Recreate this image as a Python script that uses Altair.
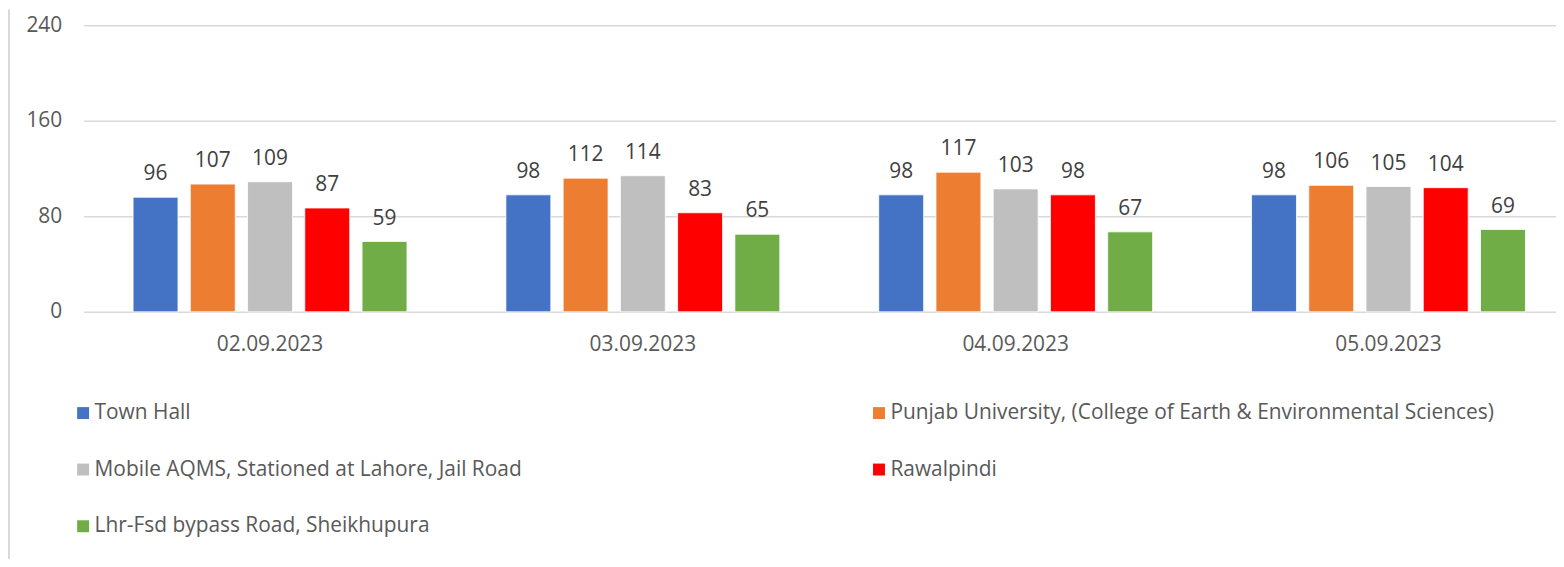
import altair as alt
import pandas as pd

dates = ["02.09.2023", "03.09.2023", "04.09.2023", "05.09.2023"]
stations = [
    "Town Hall",
    "Punjab University, (College of Earth & Environmental Sciences)",
    "Mobile AQMS, Stationed at Lahore, Jail Road",
    "Rawalpindi",
    "Lhr-Fsd bypass Road, Sheikhupura",
]
town_hall = [96, 98, 98, 98]
punjab_university = [107, 112, 117, 106]
mobile_aqms = [109, 114, 103, 105]
rawalpindi = [87, 83, 98, 104]
sheikhupura = [59, 65, 67, 69]
colors = ["#4472C4", "#ED7D31", "#BFBFBF", "#FF0000", "#70AD47"]
y_ticks = [0, 80, 160, 240]

series = [town_hall, punjab_university, mobile_aqms, rawalpindi, sheikhupura]
rows = []
for st, vals in zip(stations, series):
    for d, v in zip(dates, vals):
        rows.append({"date": d, "station": st, "value": v})
df = pd.DataFrame(rows)

# legend fills column by column (3 rows): reorder so rows read as in the original
legend_idx = [0, 2, 4, 1, 3]
legend_domain = [stations[i] for i in legend_idx]
legend_colors = [colors[i] for i in legend_idx]

FONT = "Open Sans"
FS = 21

base = alt.Chart(df).encode(
    x=alt.X(
        "date:N",
        sort=dates,
        scale=alt.Scale(paddingInner=0, paddingOuter=0, range=[0, 1499]),
        axis=alt.Axis(
            title=None, labelAngle=0, domain=False, ticks=False,
            labelPadding=22, labelFontSize=FS, labelColor="#595959",
            labelFont=FONT, grid=False,
        ),
    ),
    xOffset=alt.XOffset(
        "station:N", sort=stations,
        scale=alt.Scale(paddingInner=0.215, paddingOuter=0.864),
    ),
    y=alt.Y(
        "value:Q",
        scale=alt.Scale(domain=[0, 240], nice=False),
        axis=alt.Axis(
            title=None, values=y_ticks, domain=False, ticks=False,
            labelPadding=22, labelFontSize=FS, labelColor="#595959",
            labelFont=FONT, gridColor="#D9D9D9", gridWidth=1.5,
        ),
    ),
)

bars = base.mark_bar(stroke="white", strokeWidth=0.8).encode(
    color=alt.Color(
        "station:N",
        scale=alt.Scale(domain=legend_domain, range=legend_colors),
        legend=alt.Legend(
            title=None, orient="none", legendX=-11, legendY=379,
            columns=2, columnPadding=348, rowPadding=35,
            symbolType="square", symbolSize=144, symbolStrokeWidth=0,
            labelFontSize=FS, labelColor="#595959", labelFont=FONT,
            labelLimit=0, labelOffset=1,
        ),
    )
)

labels = base.mark_text(
    baseline="alphabetic", dy=-17, fontSize=FS, color="#404040", font=FONT
).encode(text="value:Q")

frame = alt.Chart(pd.DataFrame({"v": [0]})).mark_rule(
    color="#D9D9D9", strokeWidth=2
).encode(x=alt.value(-75), y=alt.value(-16), y2=alt.value(551))

chart = (
    alt.layer(bars, labels, frame)
    .properties(
        width=1480, height=288,
        padding={"left": 76, "top": 16, "right": 0, "bottom": 247},
        autosize=alt.AutoSizeParams(type="none"),
        background="white",
    )
    .configure_view(stroke=None)
)

chart.save("out.html", embed_options={"renderer": "svg", "actions": False})
